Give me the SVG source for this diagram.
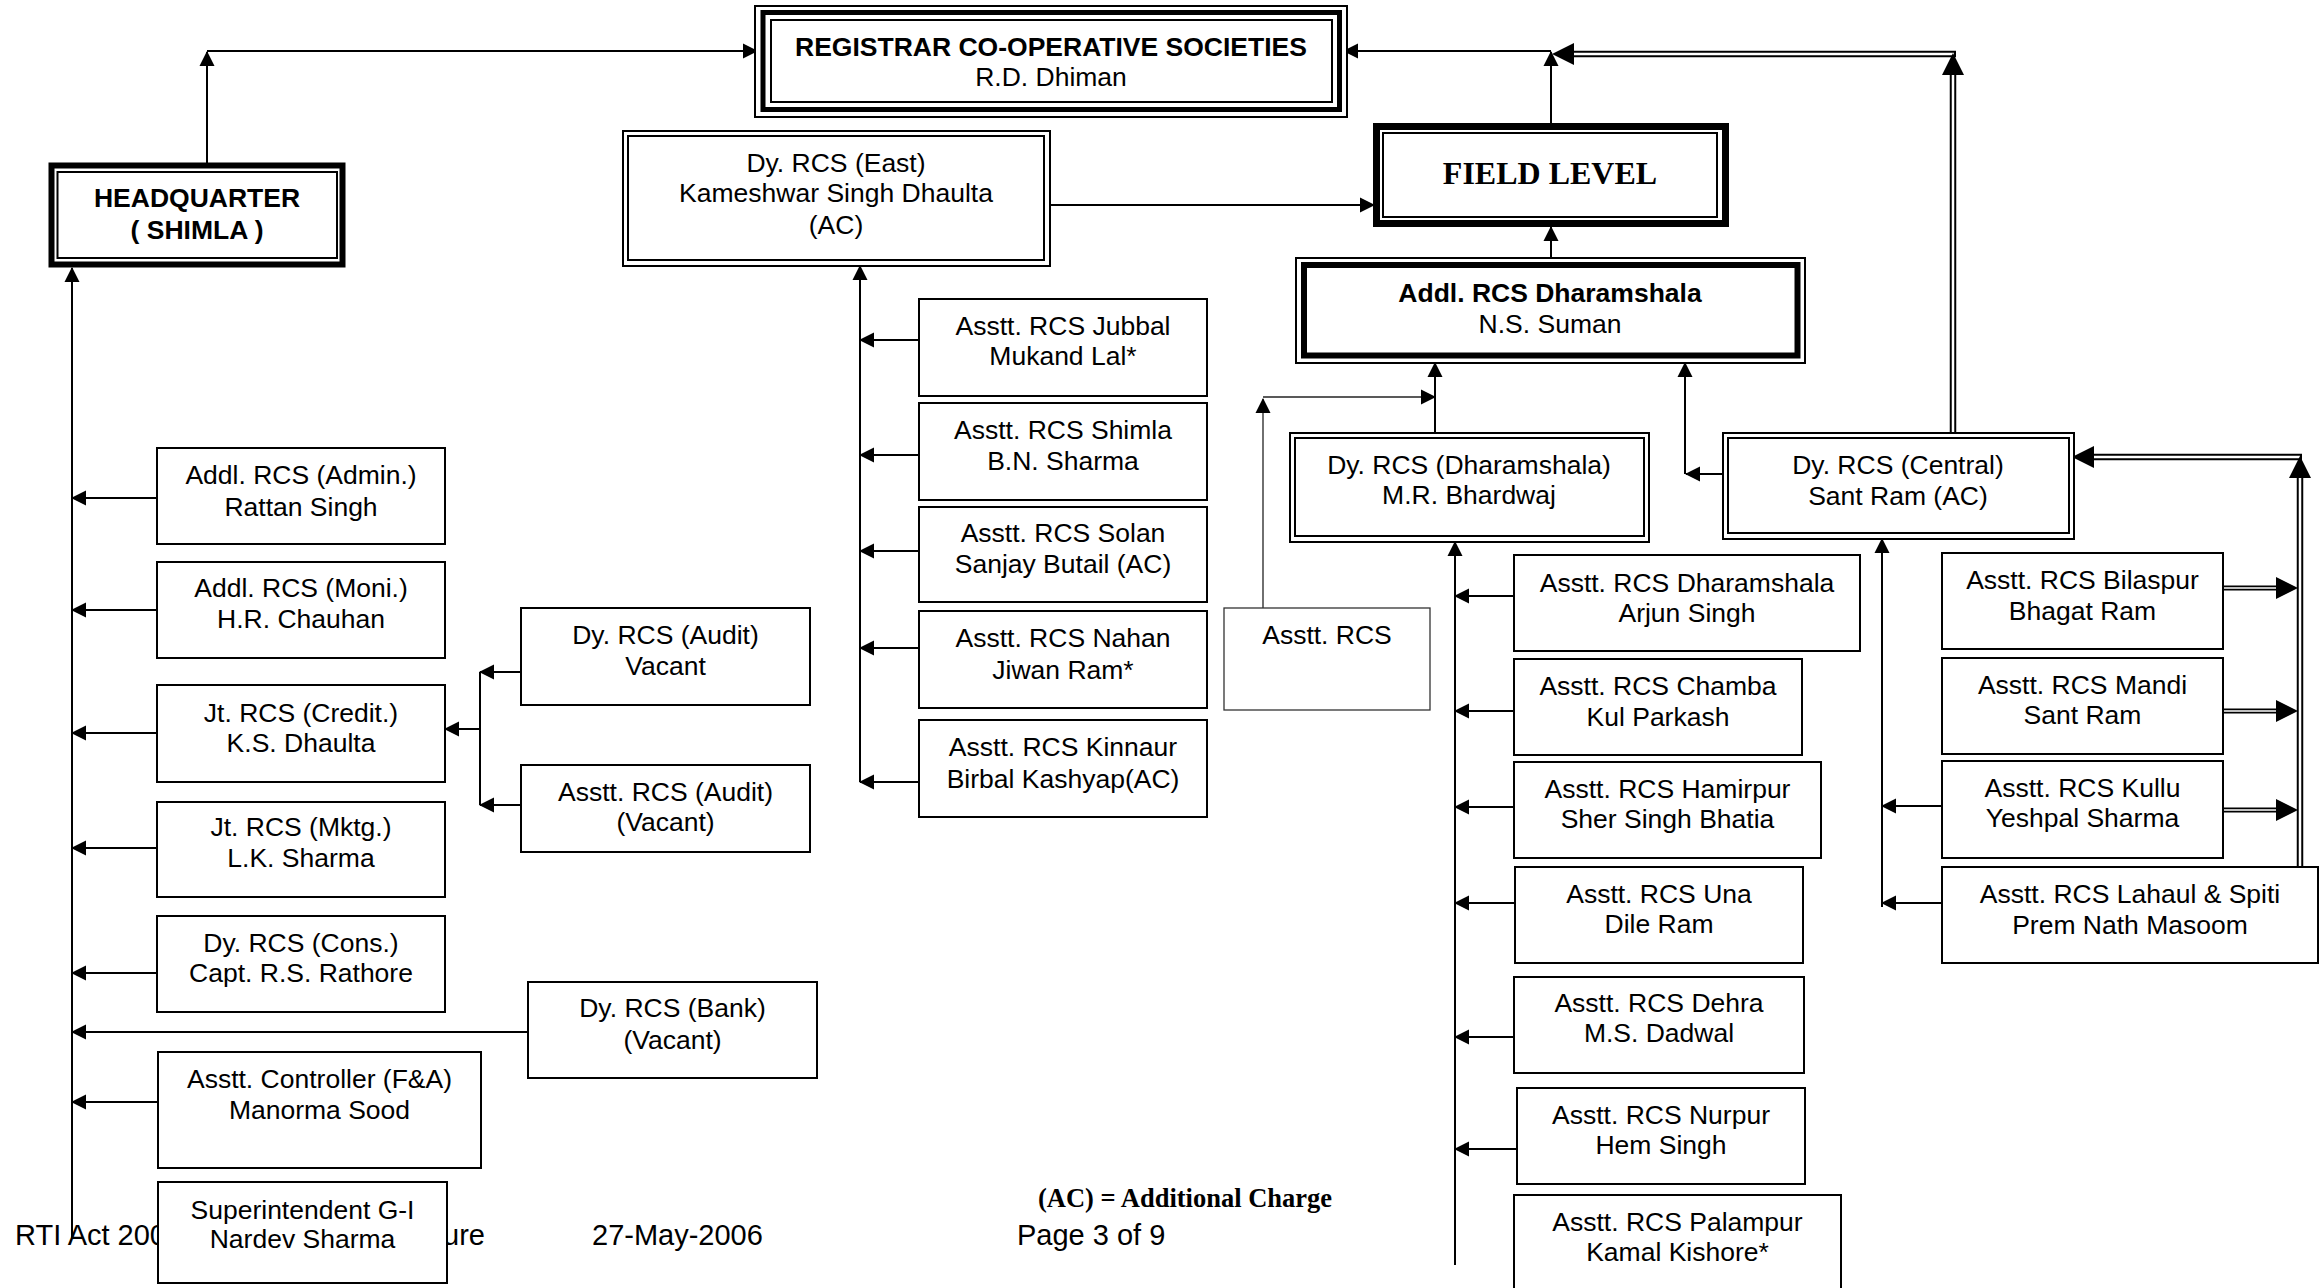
<svg xmlns="http://www.w3.org/2000/svg" width="2320" height="1288" viewBox="0 0 2320 1288">
<style>
.box{fill:#fff;stroke:#000;stroke-width:2}
.ol{fill:none;stroke:#000;stroke-width:2}
.tk{fill:#fff;stroke:#000;stroke-width:6}
.t{font-family:"Liberation Sans",Arial,sans-serif;font-size:26.5px;text-anchor:middle;fill:#000}
.b{font-weight:bold}
.ft{font-family:"Liberation Sans",Arial,sans-serif;font-size:29px;fill:#000}
.ln{stroke:#000;stroke-width:2;fill:none}
.lt{stroke:#222;stroke-width:1.3;fill:none}
.dO{stroke:#000;stroke-width:6.5;fill:none}
.dI{stroke:#fff;stroke-width:2.5;fill:none}
.sO{stroke:#000;stroke-width:5;fill:none}
.sI{stroke:#fff;stroke-width:1.6;fill:none}
</style>
<defs>
<marker id="a" markerUnits="userSpaceOnUse" markerWidth="15" markerHeight="15" viewBox="0 0 15 15" refX="14" refY="7.5" orient="auto" overflow="visible"><path d="M0,0 L15,7.5 L0,15 z" fill="#000"/></marker>
<marker id="A" markerUnits="userSpaceOnUse" markerWidth="22" markerHeight="22" viewBox="0 0 22 22" refX="0" refY="11" orient="auto" overflow="visible"><path d="M0,0 L22,11 L0,22 z" fill="#000"/></marker>
</defs>
<rect width="2320" height="1288" fill="#fff"/>

<!-- footer texts -->
<g id="footer">
<text class="ft" x="15" y="1245">RTI Act 200</text>
<text class="ft" x="443" y="1245">ure</text>
<text class="ft" x="592" y="1245">27-May-2006</text>
<text class="ft" x="1017" y="1245">Page 3 of 9</text>
<text x="1038" y="1207" style="font-family:'Liberation Serif','Times New Roman',serif;font-weight:bold;font-size:26.5px;fill:#000">(AC) = Additional Charge</text>
</g>

<g id="connectors">
<!-- top level -->
<path class="ln" d="M207,163 V52" marker-end="url(#a)"/>
<path class="ln" d="M207,51 H757" marker-end="url(#a)"/>
<path class="ln" d="M1551,123 V52" marker-end="url(#a)"/>
<path class="ln" d="M1551,51 H1344" marker-end="url(#a)"/>
<path class="ln" d="M1050,205 H1374" marker-end="url(#a)"/>
<path class="ln" d="M1551,258 V227" marker-end="url(#a)"/>
<!-- HQ trunk -->
<path class="ln" d="M72,1238 V268" marker-end="url(#a)"/>
<path class="ln" d="M157,498 H72" marker-end="url(#a)"/>
<path class="ln" d="M157,610 H72" marker-end="url(#a)"/>
<path class="ln" d="M157,733 H72" marker-end="url(#a)"/>
<path class="ln" d="M157,848 H72" marker-end="url(#a)"/>
<path class="ln" d="M157,973 H72" marker-end="url(#a)"/>
<path class="ln" d="M528,1032 H72" marker-end="url(#a)"/>
<path class="ln" d="M158,1102 H72" marker-end="url(#a)"/>
<!-- audit -->
<path class="ln" d="M480,672 V805"/>
<path class="ln" d="M521,672 H480" marker-end="url(#a)"/>
<path class="ln" d="M521,805 H480" marker-end="url(#a)"/>
<path class="ln" d="M480,729 H445" marker-end="url(#a)"/>
<!-- east -->
<path class="ln" d="M860,782 V266" marker-end="url(#a)"/>
<path class="ln" d="M919,340 H860" marker-end="url(#a)"/>
<path class="ln" d="M919,455 H860" marker-end="url(#a)"/>
<path class="ln" d="M919,551 H860" marker-end="url(#a)"/>
<path class="ln" d="M919,648 H860" marker-end="url(#a)"/>
<path class="ln" d="M919,782 H860" marker-end="url(#a)"/>
<!-- lone asstt rcs -->
<path class="lt" d="M1263,608 V399" marker-end="url(#a)"/>
<path class="lt" d="M1263,397 H1435" marker-end="url(#a)"/>
<!-- dharamshala / central to addl -->
<path class="ln" d="M1435,433 V363" marker-end="url(#a)"/>
<path class="ln" d="M1723,474 H1686" marker-end="url(#a)"/>
<path class="ln" d="M1685,474 V363" marker-end="url(#a)"/>
<!-- dharamshala trunk -->
<path class="ln" d="M1455,1265 V542" marker-end="url(#a)"/>
<path class="ln" d="M1514,596 H1455" marker-end="url(#a)"/>
<path class="ln" d="M1514,711 H1455" marker-end="url(#a)"/>
<path class="ln" d="M1514,807 H1455" marker-end="url(#a)"/>
<path class="ln" d="M1514,903 H1455" marker-end="url(#a)"/>
<path class="ln" d="M1514,1037 H1455" marker-end="url(#a)"/>
<path class="ln" d="M1517,1149 H1455" marker-end="url(#a)"/>
<!-- central trunk -->
<path class="ln" d="M1882,907 V539" marker-end="url(#a)"/>
<path class="ln" d="M1942,806 H1882" marker-end="url(#a)"/>
<path class="ln" d="M1942,903 H1882" marker-end="url(#a)"/>
<!-- double lines: central to registrar level -->
<path class="dO" d="M1956,54 H1574" marker-end="url(#A)"/>
<path class="dI" d="M1954,54 H1574"/>
<path class="dO" d="M1953,433 V75" marker-end="url(#A)"/>
<path class="dI" d="M1953,433 V75"/>
<!-- double lines: lahaul to central -->
<path class="dO" d="M2302,457 H2094" marker-end="url(#A)"/>
<path class="dI" d="M2300,457 H2094"/>
<path class="dO" d="M2300,867 V478" marker-end="url(#A)"/>
<path class="dI" d="M2300,867 V478"/>
<!-- short double arrows -->
<path class="sO" d="M2223,588 H2276" marker-end="url(#A)"/>
<path class="sI" d="M2223,588 H2276"/>
<path class="sO" d="M2223,711 H2276" marker-end="url(#A)"/>
<path class="sI" d="M2223,711 H2276"/>
<path class="sO" d="M2223,810 H2276" marker-end="url(#A)"/>
<path class="sI" d="M2223,810 H2276"/>
</g>

<g id="registrar">
<rect class="box" x="755" y="6" width="592" height="111"/>
<rect fill="none" stroke="#000" stroke-width="5" x="763" y="12.5" width="576.5" height="97"/>
<rect class="ol" x="771" y="20" width="561" height="82"/>
<text class="t b" x="1051" y="56">REGISTRAR CO-OPERATIVE SOCIETIES</text>
<text class="t" x="1051" y="86">R.D. Dhiman</text>
</g>

<g id="headquarter">
<rect class="tk" x="51.5" y="165.5" width="291" height="99"/>
<rect class="ol" x="57.5" y="172" width="279.5" height="86"/>
<text class="t b" x="197" y="207">HEADQUARTER</text>
<text class="t b" x="197" y="239">( SHIMLA )</text>
</g>

<g id="dyrcs-east">
<rect class="box" x="623" y="131" width="427" height="135"/>
<rect class="ol" x="628" y="136" width="416" height="124"/>
<text class="t" x="836" y="172">Dy. RCS (East)</text>
<text class="t" x="836" y="202">Kameshwar Singh Dhaulta</text>
<text class="t" x="836" y="234">(AC)</text>
</g>

<g id="field-level">
<rect fill="#fff" stroke="#000" stroke-width="7" x="1376.5" y="126.5" width="349" height="97"/>
<rect class="ol" x="1383" y="133" width="334" height="84"/>
<text x="1550" y="184" style="font-family:'Liberation Serif','Times New Roman',serif;font-weight:bold;font-size:32px;text-anchor:middle;fill:#000">FIELD LEVEL</text>
</g>

<g id="addl-dharamshala">
<rect class="box" x="1296" y="258" width="509" height="105"/>
<rect fill="none" stroke="#000" stroke-width="6" x="1304" y="265" width="493.5" height="90.5"/>
<text class="t b" x="1550" y="302">Addl. RCS Dharamshala</text>
<text class="t" x="1550" y="333">N.S. Suman</text>
</g>

<g id="dy-dharamshala">
<rect class="box" x="1290" y="433" width="359" height="109"/>
<rect class="ol" x="1295" y="438" width="349" height="98"/>
<text class="t" x="1469" y="474">Dy. RCS (Dharamshala)</text>
<text class="t" x="1469" y="504">M.R. Bhardwaj</text>
</g>

<g id="dy-central">
<rect class="box" x="1723" y="433" width="351" height="106"/>
<rect class="ol" x="1728" y="438" width="341" height="95"/>
<text class="t" x="1898" y="474">Dy. RCS (Central)</text>
<text class="t" x="1898" y="505">Sant Ram (AC)</text>
</g>

<!-- HQ children -->
<g id="addl-admin"><rect class="box" x="157" y="448" width="288" height="96"/><text class="t" x="301" y="484">Addl. RCS (Admin.)</text><text class="t" x="301" y="516">Rattan Singh</text></g>
<g id="addl-moni"><rect class="box" x="157" y="562" width="288" height="96"/><text class="t" x="301" y="597">Addl. RCS (Moni.)</text><text class="t" x="301" y="628">H.R. Chauhan</text></g>
<g id="jt-credit"><rect class="box" x="157" y="685" width="288" height="97"/><text class="t" x="301" y="722">Jt. RCS (Credit.)</text><text class="t" x="301" y="752">K.S. Dhaulta</text></g>
<g id="jt-mktg"><rect class="box" x="157" y="802" width="288" height="95"/><text class="t" x="301" y="836">Jt. RCS (Mktg.)</text><text class="t" x="301" y="867">L.K. Sharma</text></g>
<g id="dy-cons"><rect class="box" x="157" y="916" width="288" height="96"/><text class="t" x="301" y="952">Dy. RCS (Cons.)</text><text class="t" x="301" y="982">Capt. R.S. Rathore</text></g>
<g id="dy-audit"><rect class="box" x="521" y="608" width="289" height="97"/><text class="t" x="665.5" y="644">Dy. RCS (Audit)</text><text class="t" x="665.5" y="675">Vacant</text></g>
<g id="asstt-audit"><rect class="box" x="521" y="765" width="289" height="87"/><text class="t" x="665.5" y="801">Asstt. RCS (Audit)</text><text class="t" x="665.5" y="831">(Vacant)</text></g>
<g id="dy-bank"><rect class="box" x="528" y="982" width="289" height="96"/><text class="t" x="672.5" y="1017">Dy. RCS (Bank)</text><text class="t" x="672.5" y="1049">(Vacant)</text></g>
<g id="asstt-controller"><rect class="box" x="158" y="1052" width="323" height="116"/><text class="t" x="319.5" y="1088">Asstt. Controller (F&amp;A)</text><text class="t" x="319.5" y="1119">Manorma Sood</text></g>
<g id="superintendent"><rect class="box" x="158" y="1182" width="289" height="101"/><text class="t" x="302.5" y="1219">Superintendent G-I</text><text class="t" x="302.5" y="1248">Nardev Sharma</text></g>

<!-- East children -->
<g id="jubbal"><rect class="box" x="919" y="299" width="288" height="97"/><text class="t" x="1063" y="335">Asstt. RCS Jubbal</text><text class="t" x="1063" y="365">Mukand Lal*</text></g>
<g id="shimla"><rect class="box" x="919" y="403" width="288" height="97"/><text class="t" x="1063" y="439">Asstt. RCS Shimla</text><text class="t" x="1063" y="470">B.N. Sharma</text></g>
<g id="solan"><rect class="box" x="919" y="507" width="288" height="95"/><text class="t" x="1063" y="542">Asstt. RCS Solan</text><text class="t" x="1063" y="573">Sanjay Butail (AC)</text></g>
<g id="nahan"><rect class="box" x="919" y="611" width="288" height="97"/><text class="t" x="1063" y="647">Asstt. RCS Nahan</text><text class="t" x="1063" y="679">Jiwan Ram*</text></g>
<g id="kinnaur"><rect class="box" x="919" y="720" width="288" height="97"/><text class="t" x="1063" y="756">Asstt. RCS Kinnaur</text><text class="t" x="1063" y="788">Birbal Kashyap(AC)</text></g>

<g id="asstt-rcs"><rect fill="#fff" stroke="#333" stroke-width="1.3" x="1224" y="608" width="206" height="102"/><text class="t" x="1327" y="644">Asstt. RCS</text></g>

<!-- Dharamshala children -->
<g id="a-dharamshala"><rect class="box" x="1514" y="555" width="346" height="96"/><text class="t" x="1687" y="592">Asstt. RCS Dharamshala</text><text class="t" x="1687" y="622">Arjun Singh</text></g>
<g id="chamba"><rect class="box" x="1514" y="659" width="288" height="96"/><text class="t" x="1658" y="695">Asstt. RCS Chamba</text><text class="t" x="1658" y="726">Kul Parkash</text></g>
<g id="hamirpur"><rect class="box" x="1514" y="762" width="307" height="96"/><text class="t" x="1667.5" y="798">Asstt. RCS Hamirpur</text><text class="t" x="1667.5" y="828">Sher Singh Bhatia</text></g>
<g id="una"><rect class="box" x="1515" y="867" width="288" height="96"/><text class="t" x="1659" y="903">Asstt. RCS Una</text><text class="t" x="1659" y="933">Dile Ram</text></g>
<g id="dehra"><rect class="box" x="1514" y="977" width="290" height="96"/><text class="t" x="1659" y="1012">Asstt. RCS Dehra</text><text class="t" x="1659" y="1042">M.S. Dadwal</text></g>
<g id="nurpur"><rect class="box" x="1517" y="1088" width="288" height="96"/><text class="t" x="1661" y="1124">Asstt. RCS Nurpur</text><text class="t" x="1661" y="1154">Hem Singh</text></g>
<g id="palampur"><rect class="box" x="1514" y="1195" width="327" height="110"/><text class="t" x="1677.5" y="1231">Asstt. RCS Palampur</text><text class="t" x="1677.5" y="1261">Kamal Kishore*</text></g>

<!-- Central children -->
<g id="bilaspur"><rect class="box" x="1942" y="553" width="281" height="96"/><text class="t" x="2082.5" y="589">Asstt. RCS Bilaspur</text><text class="t" x="2082.5" y="620">Bhagat Ram</text></g>
<g id="mandi"><rect class="box" x="1942" y="658" width="281" height="96"/><text class="t" x="2082.5" y="694">Asstt. RCS Mandi</text><text class="t" x="2082.5" y="724">Sant Ram</text></g>
<g id="kullu"><rect class="box" x="1942" y="761" width="281" height="97"/><text class="t" x="2082.5" y="797">Asstt. RCS Kullu</text><text class="t" x="2082.5" y="827">Yeshpal Sharma</text></g>
<g id="lahaul"><rect class="box" x="1942" y="867" width="376" height="96"/><text class="t" x="2130" y="903">Asstt. RCS Lahaul &amp; Spiti</text><text class="t" x="2130" y="934">Prem Nath Masoom</text></g>
</svg>
